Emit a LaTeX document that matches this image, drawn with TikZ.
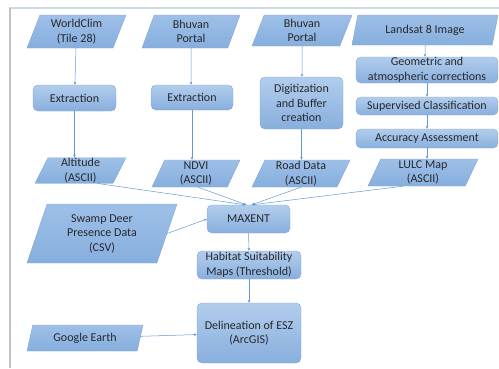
\documentclass[tikz,border=0pt]{standalone}
\usepackage{fontspec}
\setmainfont{Carlito}
\usetikzlibrary{shapes.geometric,arrows.meta,calc}
\definecolor{boxtop}{RGB}{178,205,237}
\definecolor{boxbot}{RGB}{136,175,221}
\definecolor{paratop}{RGB}{158,192,232}
\definecolor{parabot}{RGB}{134,174,221}
\definecolor{edge}{RGB}{132,168,212}
\definecolor{arr}{RGB}{100,152,212}
\definecolor{txt}{RGB}{40,40,45}
\definecolor{frametop}{RGB}{205,218,232}
\definecolor{frameleft}{RGB}{195,195,198}
\begin{document}
\begin{tikzpicture}[x=1pt,y=-1pt,
  every node/.style={font=\fontsize{12}{14.5}\selectfont, text=txt, align=center, inner sep=0.5pt},
  rbox/.style={rectangle, rounded corners=5pt, draw=edge, line width=0.4pt, top color=boxtop, bottom color=boxbot},
  para/.style={trapezium, trapezium left angle=63, trapezium right angle=117, trapezium stretches body, draw=edge, line width=0.4pt, top color=paratop, bottom color=parabot},
  conn/.style={draw=arr, line width=0.5pt, -{Stealth[length=3pt,width=2.6pt]}}
]
\useasboundingbox (0,0) rectangle (499,368);
\draw[frametop, line width=1.4pt] (9,8) -- (499,8);
\draw[frameleft, line width=1.8pt] (10,8) -- (10,368);

% sources
\node[para, minimum width=99, minimum height=33] (wc) at (76.5,31.5) {WorldClim\\(Tile 28)};
\node[para, minimum width=98, minimum height=33] (bp1) at (191,31.5) {Bhuvan\\Portal};
\node[para, minimum width=100, minimum height=31] (bp2) at (302,30.5) {Bhuvan\\Portal};
\node[para, minimum width=146, minimum height=30] (ls) at (425,30) {Landsat 8 Image};

% processing
\node[rbox, minimum width=83, minimum height=26] (ex1) at (74.5,98) {Extraction};
\node[rbox, minimum width=82, minimum height=25] (ex2) at (192,97.5) {Extraction};
\node[rbox, minimum width=83, minimum height=52] (dig) at (301.5,103) {Digitization\\and Buffer\\creation};
\node[rbox, minimum width=142, minimum height=26] (geo) at (427,70) {Geometric and\\atmospheric corrections};
\node[rbox, minimum width=142, minimum height=18] (sup) at (427,106) {Supervised Classification};
\node[rbox, minimum width=142, minimum height=19] (acc) at (427,138.5) {Accuracy Assessment};

% outputs
\node[para, minimum width=91, minimum height=25] (alt) at (80.5,170.5) {Altitude\\(ASCII)};
\node[para, minimum width=88, minimum height=27] (ndvi) at (196,173.5) {NDVI\\(ASCII)};
\node[para, minimum width=98, minimum height=27] (road) at (301,173.5) {Road Data\\(ASCII)};
\node[para, minimum width=110, minimum height=27] (lulc) at (423,172.5) {LULC Map\\(ASCII)};

% model
\node[rbox, minimum width=83, minimum height=28] (max) at (248.5,219) {MAXENT};
\node[para, minimum width=150, minimum height=59] (deer) at (102,233.5) {Swamp Deer\\Presence Data\\(CSV)};
\node[rbox, minimum width=104, minimum height=28] (hab) at (249,265) {Habitat Suitability\\Maps (Threshold)};
\node[rbox, minimum width=104, minimum height=60] (del) at (249,333) {Delineation of ESZ\\(ArcGIS)};
\node[para, minimum width=116, minimum height=26] (ge) at (85,338) {Google Earth};

% connectors
\draw[conn] (wc) -- (ex1);
\draw[conn] (ex1) -- (ex1 |- alt.north);
\draw[conn] (bp1) -- (bp1 |- ex2.north);
\draw[conn] (ex2) -- (ex2 |- ndvi.north);
\draw[conn] (bp2) -- (bp2 |- dig.north);
\draw[conn] (dig) -- (dig |- road.north);
\draw[conn] (ls) -- (ls |- geo.north);
\draw[conn] (geo) -- (geo |- sup.north);
\draw[conn] (sup) -- (sup |- acc.north);
\draw[conn] (acc) -- (acc |- lulc.north);
\draw[conn] ($(alt.south)+(17,0)$) -- ($(max.north)+(-3,0)$);
\draw[conn] ($(ndvi.south)+(2,0)$) -- ($(max.north)+(-2,0)$);
\draw[conn] ($(road.south)+(0,0)$) -- ($(max.north)+(3,0)$);
\draw[conn] ($(lulc.south)+(-20,0)$) -- ($(max.north)+(3.5,0)$);
\draw[conn] (deer.east) -- (max.west);
\draw[conn] (max) -- (hab);
\draw[conn] (hab) -- (del);
\draw[conn] (ge) -- (del);
\end{tikzpicture}
\end{document}
